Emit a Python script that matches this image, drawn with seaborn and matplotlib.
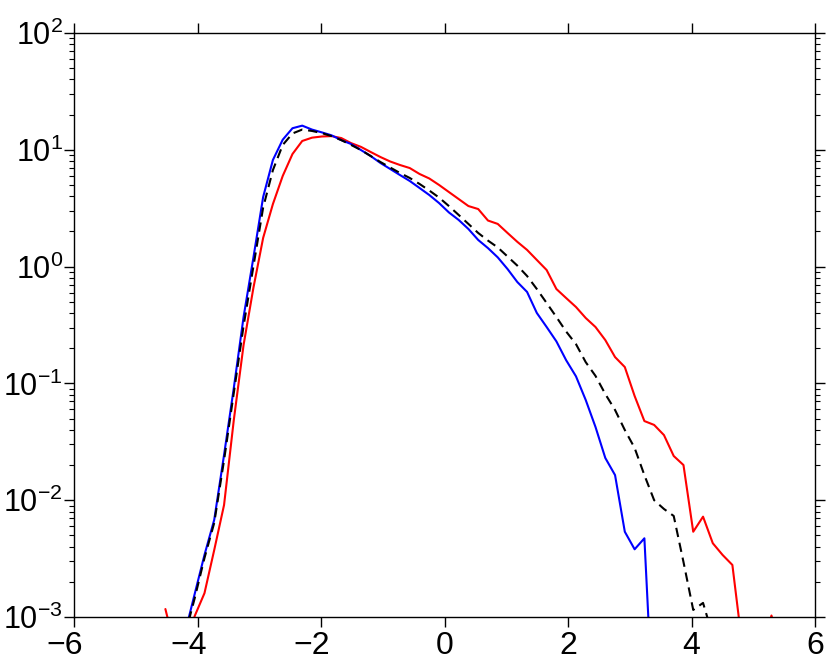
import matplotlib
matplotlib.use("Agg")
import matplotlib.pyplot as plt
import matplotlib.ticker as mticker
from matplotlib.transforms import ScaledTranslation
import seaborn as sns
import pandas as pd
import numpy as np

# bin centres (shared grid)
x_grid = [-4.520, -4.362, -4.203, -4.045, -3.887, -3.729, -3.570, -3.412, -3.254, -3.095,
          -2.937, -2.779, -2.620, -2.462, -2.304, -2.146, -1.987, -1.829, -1.671, -1.512,
          -1.354, -1.196, -1.037, -0.879, -0.721, -0.563, -0.404, -0.246, -0.088, 0.071,
          0.229, 0.387, 0.546, 0.704, 0.862, 1.021, 1.179, 1.337, 1.495, 1.654,
          1.812, 1.970, 2.129, 2.287, 2.445, 2.604, 2.762, 2.920, 3.079, 3.237,
          3.395, 3.554, 3.712, 3.870, 4.028, 4.187, 4.345, 4.503, 4.662, 4.820,
          4.978, 5.137, 5.295, 5.453]

# blue series (grid index 2..50)
blue_y = [7.3e-4, 1.58e-3, 3.4e-3, 6.8e-3, 0.0244, 0.0914, 0.37, 1.19, 3.94, 8.18,
          12.2, 15.3, 16.1, 14.9, 14.1, 13.3, 12.1, 11.2, 9.96, 8.85,
          7.71, 6.85, 6.08, 5.41, 4.71, 4.10, 3.50, 2.91, 2.51, 2.10,
          1.69, 1.44, 1.20, 0.953, 0.738, 0.607, 0.401, 0.304, 0.229, 0.158,
          0.115, 0.0721, 0.0424, 0.0230, 0.0164, 0.00537, 0.00380, 0.00472, 1.0e-4]

# black dashed series (grid index 2..56)
black_y = [7.0e-4, 1.45e-3, 3.2e-3, 6.4e-3, 0.022, 0.083, 0.31, 1.0, 3.2, 6.7,
           11.0, 13.8, 14.9, 14.5, 13.9, 13.1, 12.1, 11.0, 9.96, 8.85,
           7.86, 7.05, 6.33, 5.74, 5.10, 4.48, 3.90, 3.30, 2.77, 2.32,
           1.94, 1.67, 1.46, 1.22, 1.02, 0.831, 0.643, 0.488, 0.370, 0.278,
           0.217, 0.152, 0.116, 0.0811, 0.0592, 0.0399, 0.0280, 0.0164, 0.0100, 0.00841,
           0.00733, 0.00296, 0.00115, 0.00132, 6.9e-4]

# red series (grid index 0..63)
red_y = [1.17e-3, 5.4e-4, 5.0e-4, 1.02e-3, 1.60e-3, 3.75e-3, 9.10e-3, 0.0486, 0.213, 0.656,
         1.76, 3.43, 5.97, 9.20, 11.9, 12.7, 13.0, 13.1, 12.6, 11.4,
         10.6, 9.58, 8.67, 7.94, 7.41, 6.98, 6.21, 5.68, 5.00, 4.35,
         3.79, 3.30, 3.11, 2.48, 2.32, 1.94, 1.63, 1.39, 1.14, 0.935,
         0.643, 0.538, 0.451, 0.363, 0.304, 0.235, 0.168, 0.138, 0.078, 0.0476,
         0.0441, 0.0361, 0.0239, 0.0200, 0.00537, 0.00723, 0.00428, 0.00340, 0.00279, 5.8e-4,
         5.0e-4, 5.0e-4, 1.03e-3, 5.0e-4]

x_ticks = [-6, -4, -2, 0, 2, 4, 6]
x_tick_labels = ["\u22126", "\u22124", "\u22122", "0", "2", "4", "6"]
y_ticks = [1e-3, 1e-2, 1e-1, 1e0, 1e1, 1e2]
y_tick_labels = [r"$\mathregular{10^{-3}}$", r"$\mathregular{10^{-2}}$", r"$\mathregular{10^{-1}}$",
                 r"$\mathregular{10^{0}}$", r"$\mathregular{10^{1}}$", r"$\mathregular{10^{2}}$"]

sns.set_theme(style="ticks")
plt.rcParams["font.family"] = ["Liberation Sans", "DejaVu Sans"]
plt.rcParams["mathtext.fontset"] = "custom"
plt.rcParams["mathtext.rm"] = "Liberation Sans"
plt.rcParams["mathtext.it"] = "Liberation Sans:italic"
plt.rcParams["mathtext.bf"] = "Liberation Sans:bold"

fig = plt.figure(figsize=(8.3, 6.61), dpi=100)
ax = fig.add_axes([74 / 830, 1 - 617 / 661, (815 - 74) / 830, (617 - 33) / 661])

df_red = pd.DataFrame({"x": x_grid[0:64], "y": red_y})
df_black = pd.DataFrame({"x": x_grid[2:57], "y": black_y})
df_blue = pd.DataFrame({"x": x_grid[2:51], "y": blue_y})

lw = 1.5
sns.lineplot(data=df_red, x="x", y="y", ax=ax, color="#ff0000", lw=lw, sort=False, estimator=None)
sns.lineplot(data=df_blue, x="x", y="y", ax=ax, color="#0000ff", lw=lw, sort=False, estimator=None)
sns.lineplot(data=df_black, x="x", y="y", ax=ax, color="black", lw=lw, sort=False, estimator=None,
             dashes=False)
ax.lines[-1].set_dashes((4.5, 2.8))

ax.set_yscale("log")
ax.set_xlim(-6, 6)
ax.set_ylim(1e-3, 1e2)
ax.set_xticks(x_ticks, labels=x_tick_labels)
ax.set_yticks(y_ticks, labels=y_tick_labels)
ax.xaxis.set_minor_locator(mticker.NullLocator())
ax.yaxis.set_minor_locator(mticker.LogLocator(base=10, subs=np.arange(2, 10), numticks=20))
ax.yaxis.set_minor_formatter(mticker.NullFormatter())
ax.set_xlabel("")
ax.set_ylabel("")

for s in ax.spines.values():
    s.set_visible(True)
    s.set_linewidth(1.0)
    s.set_color("black")

ax.tick_params(which="major", direction="out", length=7, width=1.0, color="black",
               top=True, right=True, bottom=True, left=True, labelcolor="black")
ax.tick_params(axis="x", which="major", labelsize=23, pad=3)
ax.tick_params(axis="y", which="major", labelsize=22, pad=1)
ax.tick_params(which="minor", axis="y", direction="out", length=3.5, width=0.8, color="black",
               left=True, right=True)

# negative x labels: centre the digit on the tick, minus sign hangs left
fig.canvas.draw()
for lab in ax.get_xticklabels():
    if lab.get_text().startswith("\u2212"):
        lab.set_transform(lab.get_transform() + ScaledTranslation(-9 / 100, 0, fig.dpi_scale_trans))

fig.savefig("out.png", dpi=100)
